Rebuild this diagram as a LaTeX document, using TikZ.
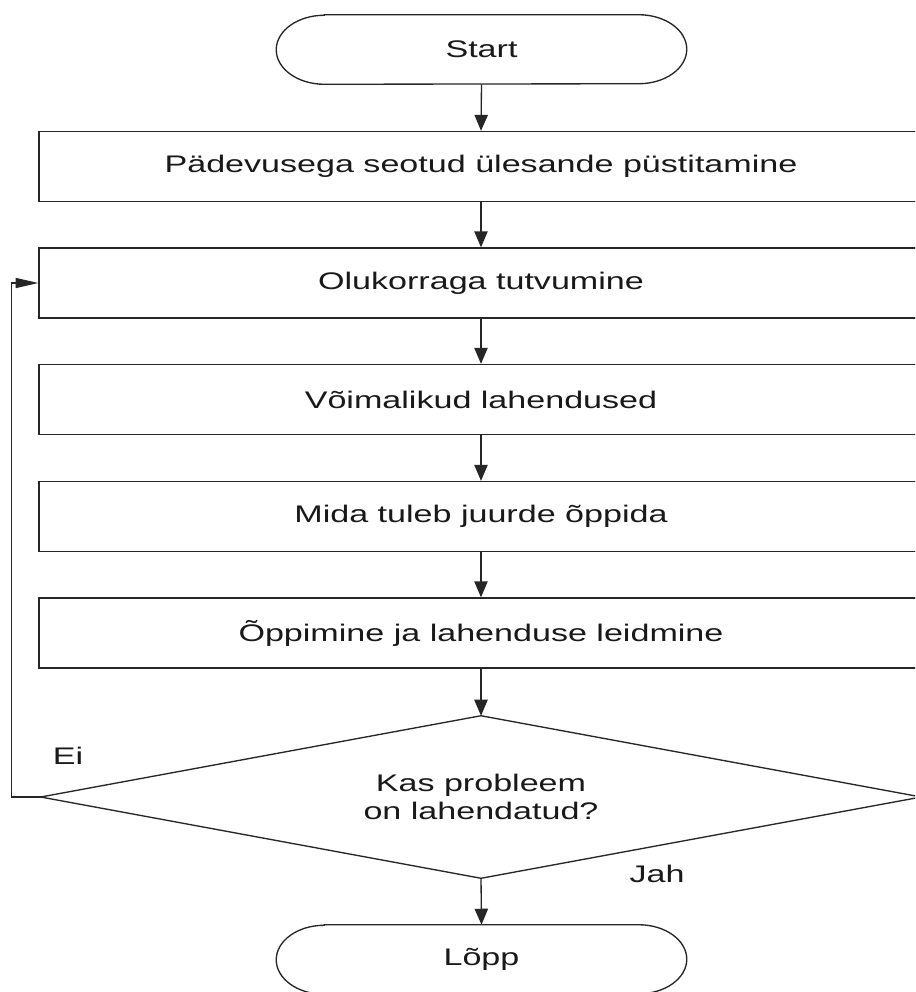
\documentclass[tikz,border=0pt]{standalone}
\usepackage{fontspec}
\setmainfont{Liberation Sans}[FakeStretch=1.42]
\usetikzlibrary{arrows.meta}
\tikzset{
  line/.style={draw=black!85, line width=1pt},
  varrow/.style={line, -{Triangle[length=12pt,width=10pt]}},
  harrow/.style={line, -{Triangle[length=17pt,width=7.5pt]}},
  label/.style={font=\fontsize{18}{21}\selectfont, text=black!90},
  stepbox/.style={line, label, rectangle, minimum width=663pt, minimum height=52.5pt, inner sep=0pt},
  termbox/.style={label, rectangle, minimum width=307.5pt, minimum height=51.75pt, inner sep=0pt},
  decbox/.style={label, rectangle, minimum width=660pt, minimum height=121.5pt, inner sep=0pt, align=center}
}
% stadium outline with elliptical ends around a terminal node
\newcommand\termoutline[1]{%
  \draw[line] ([xshift=36pt]#1.north west) -- ([xshift=-36pt]#1.north east)
    arc[start angle=90, end angle=-90, x radius=36pt, y radius=25.875pt]
    -- ([xshift=36pt]#1.south west)
    arc[start angle=270, end angle=90, x radius=36pt, y radius=25.875pt] -- cycle;}
\begin{document}
\begin{tikzpicture}[x=0.75pt, y=-0.75pt]
  \useasboundingbox (0,0) rectangle (915,992);
  \fill[white] (0,0) rectangle (915,992);
  \clip (0,0) rectangle (915,992);

  \node[termbox] (start) at (481.5,49.5) {Start};
  \termoutline{start}

  \node[stepbox] (b1) at (481,166.5) {Pädevusega seotud ülesande püstitamine};
  \node[stepbox] (b2) at (481,283)   {Olukorraga tutvumine};
  \node[stepbox] (b3) at (481,399.5) {Võimalikud lahendused};
  \node[stepbox] (b4) at (481,516.5) {Mida tuleb juurde õppida};
  \node[stepbox] (b5) at (481,633)   {Õppimine ja lahenduse leidmine};

  \node[decbox] (dec) at (481,797) {Kas probleem\\on lahendatud?};
  \draw[line] (dec.north) -- (dec.east) -- (dec.south) -- (dec.west) -- cycle;

  \node[termbox] (end) at (481.5,959.5) {Lõpp};
  \termoutline{end}

  \draw[varrow] (start.south) -- (b1.north);
  \draw[varrow] (b1.south) -- (b2.north);
  \draw[varrow] (b2.south) -- (b3.north);
  \draw[varrow] (b3.south) -- (b4.north);
  \draw[varrow] (b4.south) -- (b5.north);
  \draw[varrow] (b5.south) -- (dec.north);
  \draw[varrow] (dec.south) -- (end.north);
  \draw[harrow] (dec.west) -- ++(-29,0) |- (b2.west);

  \node[label] (ei) at (68,756) {Ei};
  \node[label] (jah) at (657,874) {Jah};
\end{tikzpicture}
\end{document}
